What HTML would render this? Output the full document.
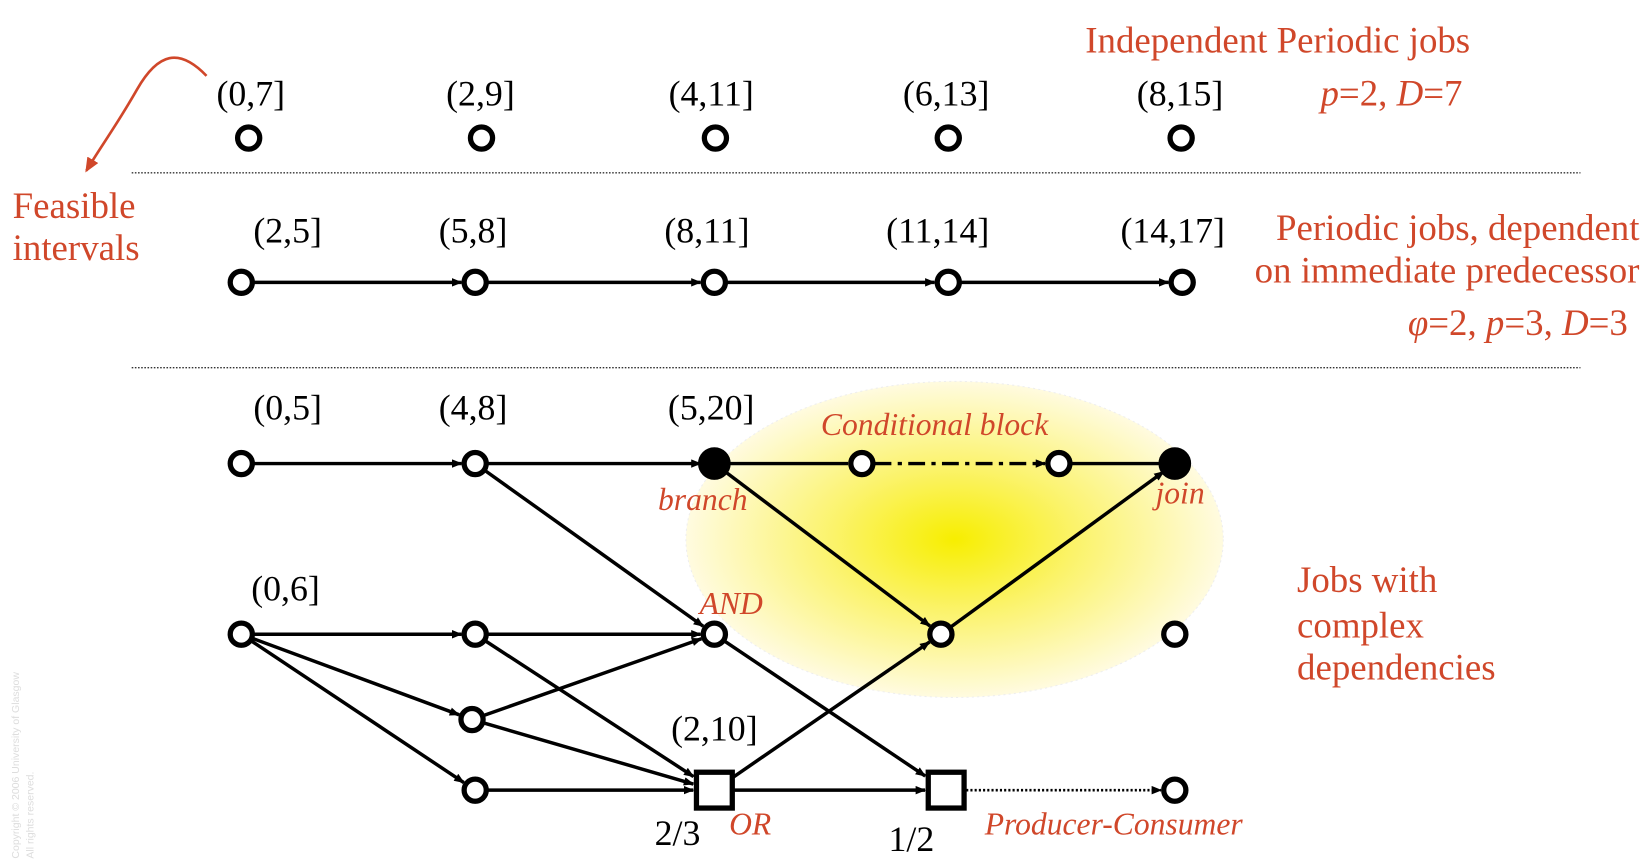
<!DOCTYPE html>
<html><head><meta charset="utf-8"><style>
html,body{margin:0;padding:0;background:#fff;}
svg{display:block;}
.t{font-family:"Liberation Serif",serif;font-size:34px;fill:#000;}
.r{font-family:"Liberation Serif",serif;font-size:35px;fill:#d0472a;}
.ri{font-family:"Liberation Serif",serif;font-size:30px;font-style:italic;fill:#d0472a;}
</style></head><body>
<svg id="dg" width="1650" height="866" viewBox="0 0 1566 822" preserveAspectRatio="none" xmlns="http://www.w3.org/2000/svg">
<defs>
<radialGradient id="glow" cx="50%" cy="50%" r="50%">
<stop offset="0%" stop-color="#f7ee00"/><stop offset="45%" stop-color="#fbf36a"/><stop offset="100%" stop-color="#fffbe0"/>
</radialGradient>
<marker id="ah" markerWidth="10" markerHeight="8" refX="9" refY="4" orient="auto" markerUnits="userSpaceOnUse"><path d="M0,0 L10,4 L0,8 z" fill="#000"/></marker>
<marker id="rah" markerWidth="14" markerHeight="12" refX="12" refY="6" orient="auto" markerUnits="userSpaceOnUse"><path d="M0,0 L14,6 L0,12 z" fill="#d0472a"/></marker>
</defs>
<ellipse cx="906" cy="512" rx="255" ry="150" fill="url(#glow)" stroke="#eee" stroke-dasharray="2,3"/>
<line x1="125" y1="164" x2="1500" y2="164" stroke="#333" stroke-width="1.3" stroke-dasharray="1.5,1.5"/>
<line x1="125" y1="349" x2="1500" y2="349" stroke="#333" stroke-width="1.3" stroke-dasharray="1.5,1.5"/>
<path d="M196,72 C170,45 150,50 130,85 C110,120 95,140 82,162" fill="none" stroke="#d0472a" stroke-width="2.5" marker-end="url(#rah)"/>
<g id="edges"></g><g id="nodes"></g>
<g id="labels">
<text class="t" x="238" y="100" text-anchor="middle">(0,7]</text>
<text class="t" x="456" y="100" text-anchor="middle">(2,9]</text>
<text class="t" x="675" y="100" text-anchor="middle">(4,11]</text>
<text class="t" x="898" y="100" text-anchor="middle">(6,13]</text>
<text class="t" x="1120" y="100" text-anchor="middle">(8,15]</text>
<text class="r" x="1030" y="50">Independent Periodic jobs</text>
<text class="r" x="1388" y="100" text-anchor="end" font-style="italic">p<tspan font-style="normal">=2, </tspan>D<tspan font-style="normal">=7</tspan></text>
<text class="r" x="12" y="207">Feasible</text>
<text class="r" x="12" y="247">intervals</text>
<text class="t" x="273" y="230" text-anchor="middle">(2,5]</text>
<text class="t" x="449" y="230" text-anchor="middle">(5,8]</text>
<text class="t" x="671" y="230" text-anchor="middle">(8,11]</text>
<text class="t" x="890" y="230" text-anchor="middle">(11,14]</text>
<text class="t" x="1113" y="230" text-anchor="middle">(14,17]</text>
<text class="r" x="1556" y="228" text-anchor="end">Periodic jobs, dependent</text>
<text class="r" x="1556" y="268" text-anchor="end">on immediate predecessor</text>
<text class="r" x="1545" y="318" text-anchor="end" font-style="italic">φ<tspan font-style="normal">=2, </tspan>p<tspan font-style="normal">=3, </tspan>D<tspan font-style="normal">=3</tspan></text>
<text class="t" x="273" y="398" text-anchor="middle">(0,5]</text>
<text class="t" x="449" y="398" text-anchor="middle">(4,8]</text>
<text class="t" x="675" y="398" text-anchor="middle">(5,20]</text>
<text class="ri" x="887" y="413" text-anchor="middle">Conditional block</text>
<text class="ri" x="667" y="484" text-anchor="middle">branch</text>
<text class="ri" x="1120" y="478" text-anchor="middle">join</text>
<text class="t" x="271" y="570" text-anchor="middle">(0,6]</text>
<text class="ri" x="694" y="583" text-anchor="middle">AND</text>
<text class="r" x="1231" y="562">Jobs with</text>
<text class="r" x="1231" y="605">complex</text>
<text class="r" x="1231" y="645">dependencies</text>
<text class="t" x="678" y="703" text-anchor="middle">(2,10]</text>
<text class="t" x="643" y="802" text-anchor="middle">2/3</text>
<text class="ri" x="712" y="792" text-anchor="middle">OR</text>
<text class="t" x="865" y="808" text-anchor="middle" font-size="27">1/2</text>
<text class="ri" x="1057" y="792" text-anchor="middle">Producer-Consumer</text>
<text transform="translate(18,815) rotate(-90)" font-family="Liberation Sans,sans-serif" font-size="10" fill="#ddd">Copyright © 2006 University of Glasgow</text>
<text transform="translate(32,815) rotate(-90)" font-family="Liberation Sans,sans-serif" font-size="10" fill="#ddd">All rights reserved.</text>
</g>
</svg>
<script>
var nodeIds=["a1","a2","a3","a4","a5","b1","b2","b3","b4","b5","c1","c2","c3","c4","c5","c6","d1","d2","d3","d4","d5","e1","f1","f2","f3","f4"];
var nodeX=[236,457,679,900,1121,229,451,678,900,1122,229,451,678,818,1005,1115,229,451,678,893,1115,448,451,678,898,1115];
var nodeY=[131,131,131,131,131,268,268,268,268,268,440,440,440,440,440,440,602,602,602,602,602,683,750,750,750,750];
var nodeKind=["o","o","o","o","o","o","o","o","o","o","o","o","f","o","o","f","o","o","o","o","o","o","o","s","s","o"];
var edgeFrom=["b1","b2","b3","b4","c1","c2","c3","c4","c5","c2","c3","d4","d1","d2","d1","d1","e1","e1","d2","f1","f2","d3","f2","f3"];
var edgeTo=  ["b2","b3","b4","b5","c2","c3","c4","c5","c6","d3","d4","c6","d2","d3","e1","f1","d3","f2","f2","f2","d4","f3","f3","f4"];
var edgeStyle=["s","s","s","s","s","s","n","d","n","s","s","s","s","s","s","s","s","s","s","s","s","s","s","p"];
var NS="http://www.w3.org/2000/svg";
function idx(id){return nodeIds.indexOf(id);}
function rad(k){return k==="s"?19:12;}
var eg=document.getElementById("edges"),ng=document.getElementById("nodes");
for(var i=0;i<edgeFrom.length;i++){
 var a=idx(edgeFrom[i]),b=idx(edgeTo[i]);
 var x1=nodeX[a],y1=nodeY[a],x2=nodeX[b],y2=nodeY[b];
 var dx=x2-x1,dy=y2-y1,L=Math.sqrt(dx*dx+dy*dy);
 var r1=rad(nodeKind[a]),r2=rad(nodeKind[b])+1;
 if(nodeKind[b]==="s"&&Math.abs(dy)>1){r2=19/Math.max(Math.abs(dx),Math.abs(dy))*L+1;}
 var ln=document.createElementNS(NS,"line");
 ln.setAttribute("x1",x1+dx/L*r1);ln.setAttribute("y1",y1+dy/L*r1);
 ln.setAttribute("x2",x2-dx/L*r2);ln.setAttribute("y2",y2-dy/L*r2);
 ln.setAttribute("stroke","#000");
 ln.setAttribute("stroke-width",edgeStyle[i]==="p"?"2.5":"3.3");
 if(edgeStyle[i]==="d")ln.setAttribute("stroke-dasharray","16,6,4,6");
 if(edgeStyle[i]==="p")ln.setAttribute("stroke-dasharray","2,2");
 if(edgeStyle[i]!=="n")ln.setAttribute("marker-end","url(#ah)");
 
 
 eg.appendChild(ln);
}
for(var j=0;j<nodeIds.length;j++){
 var el;
 if(nodeKind[j]==="s"){
  el=document.createElementNS(NS,"rect");
  el.setAttribute("x",nodeX[j]-17);el.setAttribute("y",nodeY[j]-17);
  el.setAttribute("width",34);el.setAttribute("height",34);
  el.setAttribute("fill","#fff");el.setAttribute("stroke","#000");el.setAttribute("stroke-width","5");
 }else{
  el=document.createElementNS(NS,"circle");
  el.setAttribute("cx",nodeX[j]);el.setAttribute("cy",nodeY[j]);el.setAttribute("r",nodeKind[j]==="f"?13:10.5);
  el.setAttribute("fill",nodeKind[j]==="f"?"#000":"#fff");el.setAttribute("stroke","#000");el.setAttribute("stroke-width","5");
 }
 
 
 ng.appendChild(el);
}
</script>
</body></html>
